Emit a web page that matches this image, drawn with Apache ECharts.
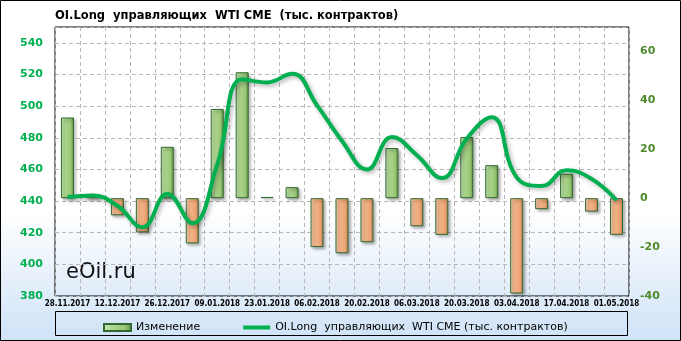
<!DOCTYPE html>
<html>
<head>
<meta charset="utf-8">
<script src="https://cdn.jsdelivr.net/npm/echarts@6/dist/echarts.min.js"></script>
<style>
html,body{margin:0;padding:0;}
#c{width:681px;height:341px;background:linear-gradient(to bottom,#ffffff 0%,#ffffff 62%,#cfe2f7 100%);}
</style>
</head>
<body>
<div id="c"></div>
<script>
var categories = ['28.11.2017','05.12.2017','12.12.2017','19.12.2017','26.12.2017','02.01.2018','09.01.2018','16.01.2018','23.01.2018','30.01.2018','06.02.2018','13.02.2018','20.02.2018','27.02.2018','06.03.2018','13.03.2018','20.03.2018','27.03.2018','03.04.2018','10.04.2018','17.04.2018','24.04.2018','01.05.2018'];
var changeValues = [33, 1, -7, -14, 21, -18.5, 36.5, 51.5, 0.5, 4.5, -20, -22.5, -18, 20.5, -11.5, -15, 25, 13.5, -39, -4.5, 10, -5.5, -15];
var oiLongValues = [442.5, 443.5, 437, 423.5, 444.5, 426, 463, 517, 515, 520.5, 500.5, 478, 460, 480.5, 469, 454.5, 479.5, 493, 455, 449.5, 459.5, 454, 440.5];
var leftTicks = {min: 380, max: 550, interval: 20};
var rightTicks = {min: -40, max: 70, interval: 20};
var titleText = 'OI.Long  управляющих  WTI CME  (тыс. контрактов)';
var barName = 'Изменение';
var lineName = 'OI.Long  управляющих  WTI CME (тыс. контрактов)';

var chart = echarts.init(document.getElementById('c'), null, {renderer: 'canvas'});
var greenGrad = new echarts.graphic.LinearGradient(0, 0, 1, 0, [
  {offset: 0, color: '#d2ebbd'}, {offset: 0.25, color: '#b2da94'}, {offset: 0.75, color: '#98c775'}, {offset: 1, color: '#5f8f40'}]);
var orangeGrad = new echarts.graphic.LinearGradient(0, 0, 1, 0, [
  {offset: 0, color: '#fcd9bb'}, {offset: 0.25, color: '#f6b88e'}, {offset: 0.75, color: '#eca473'}, {offset: 1, color: '#b97a4f'}]);

var barData = changeValues.map(function (v) {
  return v < 0 ? {value: v, itemStyle: {color: orangeGrad}} : v;
});
var FONT = 'DejaVu Sans';

chart.setOption({
  animation: false,
  title: {text: titleText, left: 50, top: 5, textStyle: {fontFamily: FONT, fontSize: 11.5, fontWeight: 'bold', color: '#000'}},
  grid: {left: 55, right: 52, top: 27, bottom: 45, show: true, borderColor: '#000', borderWidth: 1},
  legend: {
    left: 98, top: 317, itemWidth: 27, itemHeight: 7, itemGap: 43,
    textStyle: {fontFamily: FONT, fontSize: 11, color: '#000'},
    data: [{name: barName, icon: 'rect'}, {name: lineName, icon: 'path://M0 0H27V4H0Z', itemStyle: {color: '#00b050'}}]
  },
  xAxis: {
    type: 'category', data: categories, boundaryGap: true,
    axisLine: {show: false}, axisTick: {show: false},
    axisLabel: {interval: 1, margin: 4, showMinLabel: true, showMaxLabel: true, hideOverlap: false,
      fontFamily: '"DejaVu Sans Condensed", "DejaVu Sans"', fontSize: 8, fontWeight: 'bold', color: '#000'},
    splitLine: {show: true, interval: 0, lineStyle: {color: '#b8b8b8', type: [4, 3], width: 1}}
  },
  yAxis: [
    {type: 'value', min: leftTicks.min, max: leftTicks.max, interval: leftTicks.interval, position: 'left',
     axisLine: {show: false}, axisTick: {show: false},
     axisLabel: {showMaxLabel: false, margin: 12, fontFamily: FONT, fontSize: 11, fontWeight: 'bold', color: '#00b050'},
     splitLine: {show: true, lineStyle: {color: '#b8b8b8', type: [4, 3], width: 1}}},
    {type: 'value', min: rightTicks.min, max: rightTicks.max, interval: rightTicks.interval, position: 'right',
     axisLine: {show: false}, axisTick: {show: false},
     axisLabel: {showMaxLabel: false, margin: 11, fontFamily: FONT, fontSize: 11, fontWeight: 'bold', color: '#4e8a2c'},
     splitLine: {show: false}}
  ],
  series: [
    {name: barName, type: 'bar', yAxisIndex: 1, data: barData, barWidth: 13,
     itemStyle: {color: greenGrad, borderColor: '#2f6a32', borderWidth: 1,
       shadowColor: 'rgba(0,0,0,0.35)', shadowBlur: 3, shadowOffsetX: 2, shadowOffsetY: 2}},
    {name: lineName, type: 'line', yAxisIndex: 0, data: oiLongValues, smooth: 0.45,
     symbol: 'none', showSymbol: false, z: 5,
     itemStyle: {color: '#00b050'},
     lineStyle: {color: '#00b050', width: 4, shadowColor: 'rgba(0,0,0,0.3)', shadowBlur: 4, shadowOffsetX: 2, shadowOffsetY: 2}}
  ],
  graphic: [
    {type: 'rect', silent: true, shape: {x: 0.5, y: 0.5, width: 680, height: 340}, style: {fill: 'none', stroke: '#000', lineWidth: 1}},
    {type: 'rect', silent: true, shape: {x: 55.5, y: 311.5, width: 572, height: 24}, style: {fill: 'none', stroke: '#000', lineWidth: 1}},
    {type: 'text', silent: true, left: 66, top: 262, style: {text: 'eOil.ru', font: '21px "DejaVu Sans"', fill: '#111'}}
  ]
});
</script>
</body>
</html>
